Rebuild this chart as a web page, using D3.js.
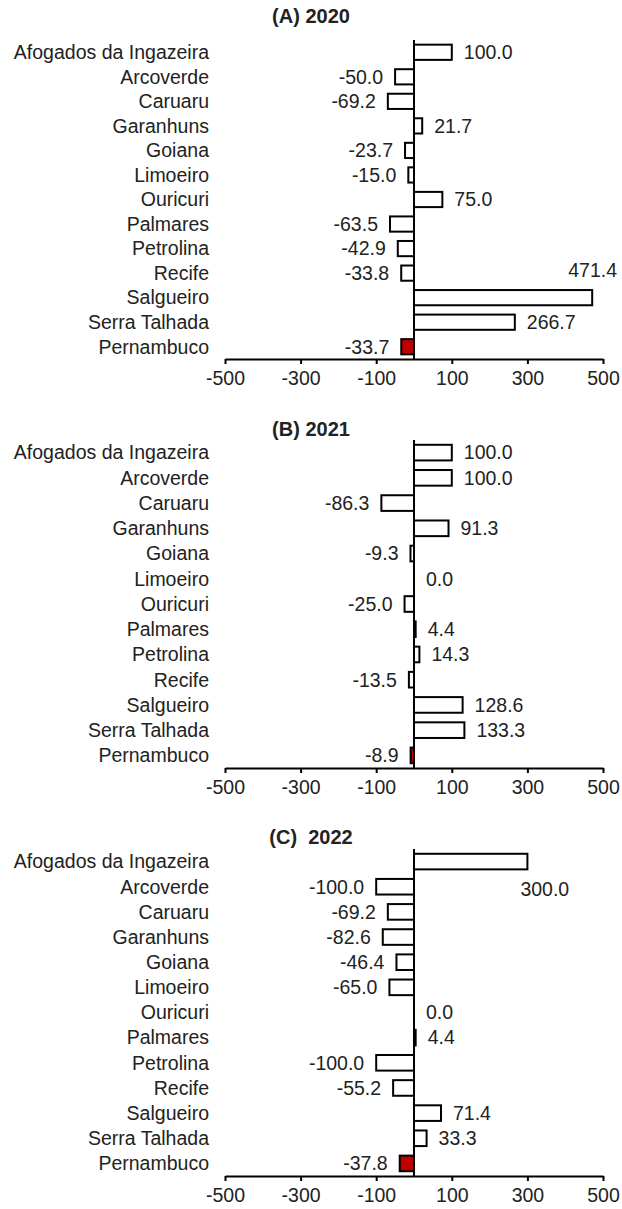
<!DOCTYPE html>
<html>
<head>
<meta charset="utf-8">
<script src="https://cdn.jsdelivr.net/npm/d3@7"></script>
<style>
  body { margin: 0; background: #fff; }
  svg text { font-family: "Liberation Sans", Arial, sans-serif; fill: #222; }
</style>
</head>
<body>
<svg id="chart" width="622" height="1209"></svg>
<script>
const categories = ["Afogados da Ingazeira", "Arcoverde", "Caruaru", "Garanhuns", "Goiana",
    "Limoeiro", "Ouricuri", "Palmares", "Petrolina", "Recife", "Salgueiro", "Serra Talhada", "Pernambuco"];
const values2020 = [100.0, -50.0, -69.2, 21.7, -23.7, -15.0, 75.0, -63.5, -42.9, -33.8, 471.4, 266.7, -33.7];
const values2021 = [100.0, 100.0, -86.3, 91.3, -9.3, 0.0, -25.0, 4.4, 14.3, -13.5, 128.6, 133.3, -8.9];
const values2022 = [300.0, -100.0, -69.2, -82.6, -46.4, -65.0, 0.0, 4.4, -100.0, -55.2, 71.4, 33.3, -37.8];
const panelTitles = ["(A) 2020", "(B) 2021", "(C)\u00a0 2022"];
const tickValues = [-500, -300, -100, 100, 300, 500];
const totalName = "Pernambuco";

// layout of each panel (top of bars, axis line, title baseline)
const panels = [
    {title: panelTitles[0], values: values2020, top: 40, bottom: 359, titleY: 23},
    {title: panelTitles[1], values: values2021, top: 440, bottom: 768, titleY: 436},
    {title: panelTitles[2], values: values2022, top: 849, bottom: 1176, titleY: 844}
];

// labels that were dragged away from the bar end in the original
const movedLabels = {
    "0|Salgueiro": {dx: -24, dy: -27},
    "2|Afogados da Ingazeira": {dx: -7, dy: 28}
};

// plain hyphen for negatives, like the original
const fmt = d3.formatLocale({decimal: '.', thousands: ',', grouping: [3], currency: ['', ''], minus: '-'});
const valueFormat = fmt.format('.1f');
const tickFormat = fmt.format('d');

const svg = d3.select('#chart');
const x = d3.scaleLinear().domain([-500, 500]).range([225, 603]);
const fontSize = 19.5;

panels.forEach((p, pi) => {
    let g = svg.append('g');
    let y = d3.scaleBand()
        .domain(categories)
        .range([p.top, p.bottom])
        .paddingInner(0.38)
        .paddingOuter(0.19);

    g.append('text')
        .attr('x', 311)
        .attr('y', p.titleY)
        .attr('text-anchor', 'middle')
        .style('font-weight', 'bold')
        .style('font-size', '20px')
        .style('white-space', 'pre')
        .text(p.title);

    let rows = categories.map((c, i) => ({name: c, value: p.values[i]}));

    g.selectAll('rect')
        .data(rows)
        .enter()
        .append('rect')
        .attr('x', d => x(Math.min(0, d.value)))
        .attr('y', d => y(d.name))
        .attr('width', d => Math.abs(x(d.value) - x(0)))
        .attr('height', y.bandwidth())
        .style('fill', d => d.name == totalName ? '#c00000' : '#fff')
        .style('stroke', '#000')
        .style('stroke-width', 2);

    // category names
    g.selectAll('text.cat')
        .data(rows)
        .enter()
        .append('text')
        .attr('class', 'cat')
        .attr('x', 209)
        .attr('y', d => y(d.name) + y.bandwidth() / 2)
        .attr('dy', '0.35em')
        .attr('text-anchor', 'end')
        .style('font-size', fontSize + 'px')
        .text(d => d.name);

    // value labels
    g.selectAll('text.val')
        .data(rows)
        .enter()
        .append('text')
        .attr('class', 'val')
        .attr('x', d => {
            let m = movedLabels[pi + '|' + d.name];
            if (m) return x(d.value) + m.dx;
            return d.value < 0 ? x(d.value) - 12 : x(d.value) + 12;
        })
        .attr('y', d => {
            let m = movedLabels[pi + '|' + d.name];
            return y(d.name) + y.bandwidth() / 2 + (m ? m.dy : 0);
        })
        .attr('dy', '0.35em')
        .attr('text-anchor', d => d.value < 0 ? 'end' : 'start')
        .style('font-size', fontSize + 'px')
        .text(d => valueFormat(d.value));

    // zero line
    g.append('line')
        .attr('x1', x(0)).attr('x2', x(0))
        .attr('y1', p.top).attr('y2', p.bottom)
        .style('stroke', '#000')
        .style('stroke-width', 2);

    let axis = d3.axisBottom(x)
        .tickValues(tickValues)
        .tickSize(5)
        .tickSizeOuter(0)
        .tickFormat(tickFormat);
    let ax = g.append('g')
        .attr('transform', `translate(0,${p.bottom})`)
        .call(axis);
    ax.select('.domain').style('stroke', '#000').style('stroke-width', 2);
    ax.selectAll('.tick line').style('stroke', '#000').style('stroke-width', 2);
    ax.selectAll('.tick text')
        .attr('y', 12)
        .style('font-size', fontSize + 'px')
        .style('font-family', '"Liberation Sans", Arial, sans-serif')
        .style('fill', '#222');
});
</script>
</body>
</html>
